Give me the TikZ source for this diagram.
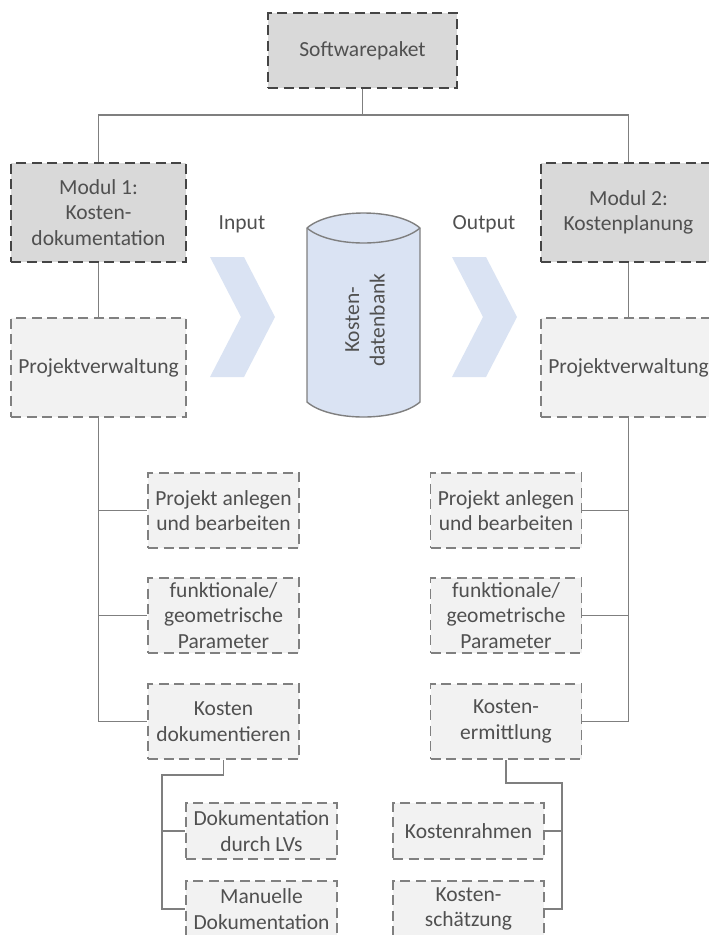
\documentclass[tikz,border=0pt]{standalone}
\usepackage{fontspec}
\setmainfont{Carlito}
\definecolor{txt}{HTML}{505050}
\definecolor{darkborder}{HTML}{454545}
\definecolor{border}{HTML}{808080}
\definecolor{linecol}{HTML}{7F7F7F}
\definecolor{darkfill}{HTML}{D9D9D9}
\definecolor{lightfill}{HTML}{F2F2F2}
\definecolor{dbfill}{HTML}{DAE3F3}
\begin{document}
\begin{tikzpicture}[x=1pt,y=-1pt,
  every node/.style={font=\fontsize{21.5}{25.5}\selectfont, text=txt},
  box/.style={draw=border, line width=1.5pt, dash pattern=on 10pt off 5.5pt,
    inner sep=0pt, align=center},
  dark/.style={box, draw=darkborder, line width=2pt, fill=darkfill,
    minimum width=175pt, minimum height=99pt},
  light/.style={box, fill=lightfill, minimum width=175pt, minimum height=99pt},
  sub/.style={box, fill=lightfill, minimum width=151pt, minimum height=75pt},
  leaf/.style={box, fill=lightfill, minimum width=151pt, minimum height=56pt},
  link/.style={draw=linecol, line width=1.5pt},
  chev/.style={fill=dbfill},
  plain/.style={inner sep=0pt, align=center}
]
\useasboundingbox (0,0) rectangle (709,935);
\clip (0,0) rectangle (709,935);

% input / output chevrons
\fill[chev] (210,257) -- (244,257) -- (275,317) -- (244,377) -- (210,377) -- (241,317) -- cycle;
\fill[chev] (452,257) -- (486,257) -- (517,317) -- (486,377) -- (452,377) -- (483,317) -- cycle;

% cost database cylinder
\filldraw[fill=dbfill, draw=linecol, line width=1.4pt]
  (307,228) -- (307,402) .. controls (330,422) and (397,422) .. (420,402) -- (420,228)
  .. controls (397,208) and (330,208) .. (307,228) -- cycle;
\draw[draw=linecol, line width=1.4pt]
  (307,228) .. controls (330,248) and (397,248) .. (420,228);
\node[plain, rotate=90] (db) at (365,320) {Kosten-\\datenbank};

\node[plain] (in)  at (242,224) {Input};
\node[plain] (out) at (484,224) {Output};

% boxes
\node[dark, minimum width=189pt, minimum height=75pt] (soft) at (362.5,50.5) {Softwarepaket};
\node[dark] (m1) at (98.5,212.5) {Modul 1:\\Kosten-\\dokumentation};
\node[dark] (m2) at (628.5,212.5) {Modul 2:\\Kostenplanung};
\node[light] (pv1) at (98.5,367.5) {Projektverwaltung};
\node[light] (pv2) at (628.5,367.5) {Projektverwaltung};

\node[sub] (pa1) at (223.5,510.5) {Projekt anlegen\\und bearbeiten};
\node[sub] (fg1) at (223.5,615.5) {funktionale/\\geometrische\\Parameter};
\node[sub] (kd1) at (223.5,721.5) {Kosten\\dokumentieren};

\node[sub] (pa2) at (506,510.5) {Projekt anlegen\\und bearbeiten};
\node[sub] (fg2) at (506,615.5) {funktionale/\\geometrische\\Parameter};
\node[sub] (ke2) at (506,721.5) {Kosten-\\ermittlung};

\node[leaf] (dl) at (261.5,831) {Dokumentation\\durch LVs};
\node[leaf] (md) at (261.5,909) {Manuelle\\Dokumentation};
\node[leaf] (kr) at (468.5,831) {Kostenrahmen};
\node[leaf] (ks) at (468.5,909) {Kosten-\\schätzung};

% connectors
\coordinate (bus) at (362.5,115);
\draw[link] (soft.south) -- (bus);
\draw[link] (m1.north) |- (bus) -| (m2.north);
\draw[link] (m1.south) -- (pv1.north);
\draw[link] (m2.south) -- (pv2.north);

\draw[link] (pv1.south) |- (kd1.west);
\draw[link] (pv1.south |- pa1.west) -- (pa1.west);
\draw[link] (pv1.south |- fg1.west) -- (fg1.west);

\draw[link] (pv2.south) |- (ke2.east);
\draw[link] (pv2.south |- pa2.east) -- (pa2.east);
\draw[link] (pv2.south |- fg2.east) -- (fg2.east);

\coordinate (j1) at (162,775);
\draw[link] (kd1.south) |- (j1) |- (md.west);
\draw[link] (j1 |- dl.west) -- (dl.west);

\coordinate (j2) at (562,783);
\draw[link] (ke2.south) |- (j2) |- (ks.east);
\draw[link] (j2 |- kr.east) -- (kr.east);
\end{tikzpicture}
\end{document}
